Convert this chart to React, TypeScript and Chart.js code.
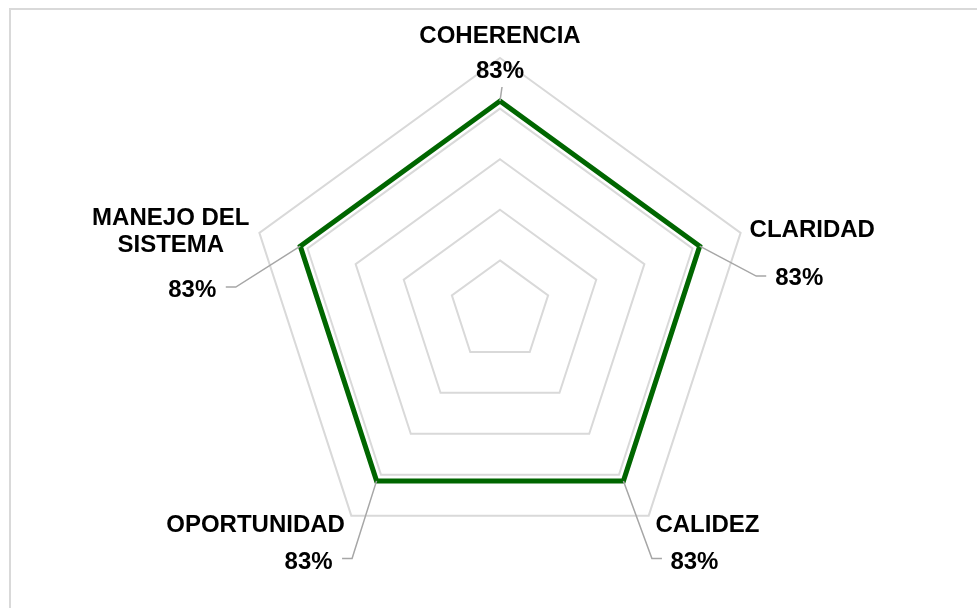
import React, { useEffect, useRef } from 'react';
import { Chart, registerables } from 'chart.js';

Chart.register(...registerables);

// ---- data ----
const categories = ['COHERENCIA', 'CLARIDAD', 'CALIDEZ', 'OPORTUNIDAD', 'MANEJO DEL SISTEMA'];
const categoryLines = [['COHERENCIA'], ['CLARIDAD'], ['CALIDEZ'], ['OPORTUNIDAD'], ['MANEJO DEL', 'SISTEMA']];
const values = [0.83, 0.83, 0.83, 0.83, 0.83];
const valueLabels = ['83%', '83%', '83%', '83%', '83%'];
const scaleMin = 0;
const scaleMax = 1;
const scaleStep = 0.2;

// ---- label layout (offsets relative to each data point) ----
type LabelLayout = {
  value: [number, number];
  cat: [number, number];
  leader: [number, number][];
};
const labelLayout: LabelLayout[] = [
  { value: [0, -23], cat: [0, -58.5], leader: [[2, -14]] },
  { value: [99.5, 39], cat: [112.5, -9], leader: [[56.5, 30], [66.5, 30]] },
  { value: [71, 88.4], cat: [84, 51.4], leader: [[28.5, 77.5], [38.5, 77.5]] },
  { value: [-68, 88.4], cat: [-121, 51.4], leader: [[-24.5, 77.5], [-34.5, 77.5]] },
  { value: [-108, 51], cat: [-129.5, -21], leader: [[-64.5, 41], [-74.5, 41]] },
];

const FONT = 'bold 24px "Liberation Sans", Arial, sans-serif';
const LINE_H = 27;

const labelPlugin = {
  id: 'radarLabels',
  afterDatasetsDraw(chart: any) {
    const scale = chart.scales.r;
    const ctx = chart.ctx as CanvasRenderingContext2D;
    ctx.save();
    values.forEach((v, i) => {
      const p = scale.getPointPositionForValue(i, v);
      const lay = labelLayout[i];
      // leader line
      ctx.beginPath();
      ctx.strokeStyle = '#a6a6a6';
      ctx.lineWidth = 1.5;
      ctx.moveTo(p.x, p.y);
      lay.leader.forEach(([dx, dy]) => ctx.lineTo(p.x + dx, p.y + dy));
      ctx.stroke();
      // text
      ctx.fillStyle = '#000000';
      ctx.font = FONT;
      ctx.textAlign = 'center';
      ctx.textBaseline = 'alphabetic';
      ctx.fillText(valueLabels[i], p.x + lay.value[0], p.y + lay.value[1]);
      categoryLines[i].forEach((line, k) => {
        ctx.fillText(line, p.x + lay.cat[0], p.y + lay.cat[1] + k * LINE_H);
      });
    });
    ctx.restore();
  },
};

export default function App() {
  const ref = useRef<HTMLCanvasElement | null>(null);
  useEffect(() => {
    if (!ref.current) return;
    const chart = new Chart(ref.current, {
      type: 'radar',
      data: {
        labels: categories,
        datasets: [
          {
            data: values,
            borderColor: '#006600',
            borderWidth: 5,
            backgroundColor: 'rgba(0,0,0,0)',
            fill: false,
            pointRadius: 0,
            pointHoverRadius: 0,
            borderJoinStyle: 'miter',
            tension: 0,
          },
        ],
      },
      options: {
        responsive: false,
        animation: false,
        layout: { padding: { left: 246, right: 223, top: 58, bottom: 43 } },
        plugins: { legend: { display: false }, tooltip: { enabled: false } },
        scales: {
          r: {
            min: scaleMin,
            max: scaleMax,
            ticks: { stepSize: scaleStep, display: false },
            grid: { color: '#d9d9d9', lineWidth: 2 },
            angleLines: { display: false },
            pointLabels: { display: false },
          },
        },
      },
      plugins: [labelPlugin],
    } as any);
    return () => chart.destroy();
  }, []);

  return (
    <div style={{ position: 'fixed', left: 0, top: 0, width: 977, height: 608, overflow: 'hidden', background: '#fff' }}>
      <div
        style={{
          position: 'absolute',
          left: 9,
          top: 8,
          width: 1200,
          height: 900,
          border: '2px solid #d9d9d9',
        }}
      />
      <canvas ref={ref} width={977} height={608} style={{ position: 'absolute', left: 0, top: 0, display: 'block' }} />
    </div>
  );
}
